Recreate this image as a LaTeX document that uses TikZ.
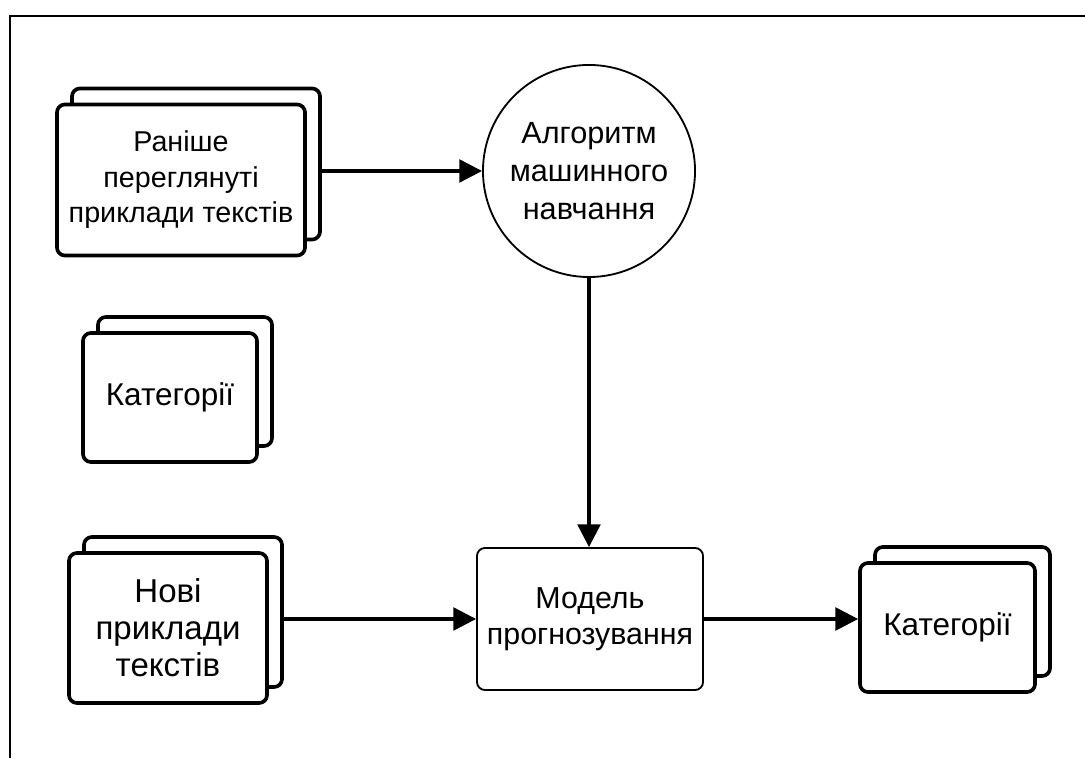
\documentclass[tikz,border=0pt]{standalone}
\usepackage{fontspec}
\setmainfont{Liberation Sans}
\usetikzlibrary{calc}
\usetikzlibrary{arrows.meta}
\usetikzlibrary{shadows}
\newcommand{\fs}[2]{\fontsize{#1}{#2}\selectfont}
\tikzset{Stack/.style={rectangle, draw, line width=2.6pt, rounded corners=0.2cm, fill=white, align=center,
           copy shadow={shadow xshift=0.375cm, shadow yshift=0.4cm, draw=black, fill=white, line width=2.6pt}},
         Proc/.style={rectangle, draw, line width=1.3pt, rounded corners=0.2cm, fill=white, align=center},
         Algo/.style={circle, draw, line width=1.3pt, align=center, inner sep=0pt},
         Flow/.style={line width=2.3pt, -{Triangle[length=0.57cm, width=0.57cm]}}}

\begin{document}
\begin{tikzpicture}[x=0.025cm, y=0.025cm, font=\fs{20.6}{25}]
  \useasboundingbox (0,0) rectangle (1085,758);
  \draw[line width=1.2pt] (10,0) -- (10,742) -- (1085,742);
    \node[Stack, minimum width=6.2cm, minimum height=3.775cm, font=\fs{20.4}{25.2}] (Seen) at (181,578) {Раніше\\ переглянуті\\ приклади текстів};
    \node[Algo, minimum size=5.3cm, font=\fs{21.8}{27}] (ML) at (589,587) {Алгоритм\\ машинного\\ навчання};
    \node[Stack, minimum width=4.35cm, minimum height=3.225cm, font=\fs{22.4}{26}] (Cats) at (170,360.5) {Категорії};
    \node[Stack, minimum width=4.95cm, minimum height=3.75cm, font=\fs{23.5}{26.4}] (New) at (168,130) {Нові\\ приклади\\ текстів};
    \node[Proc, minimum width=5.65cm, minimum height=3.55cm, font=\fs{21.6}{25.2}] (Model) at (590,139) {Модель\\ прогнозування};
    \node[Stack, minimum width=4.375cm, minimum height=3.225cm, font=\fs{22.4}{26}] (Out) at (947.5,130.5) {Категорії};
  \draw[Flow] ($(ML.west -| Seen.east)+(15,0)$) -- (ML.west);
  \draw[Flow] (ML.south) -- (ML.south |- Model.north);
  \draw[Flow] ($(Model.west -| New.east)+(15,0)$) -- (Model.west);
  \draw[Flow] (Model.east) -- (Model.east -| Out.west);
\end{tikzpicture}
\end{document}
